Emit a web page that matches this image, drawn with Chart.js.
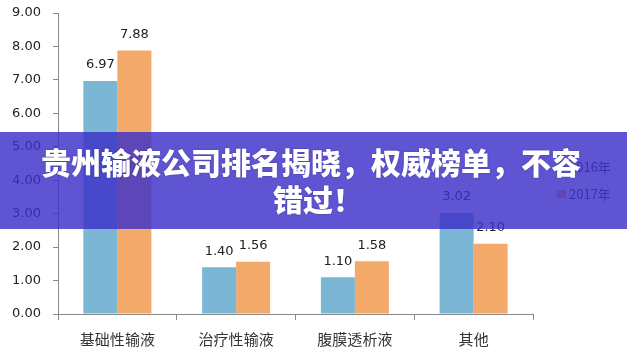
<!DOCTYPE html>
<html>
<head>
<meta charset="utf-8">
<script src="https://cdn.jsdelivr.net/npm/chart.js@4/dist/chart.umd.min.js"></script>
<style>
html,body{margin:0;padding:0;background:#fff;}
canvas{display:block;}
</style>
</head>
<body>
<canvas id="c" width="627" height="362"></canvas>
<script>
const categories = ['基础性输液', '治疗性输液', '腹膜透析液', '其他'];
const seriesNames = ['2016年', '2017年'];
const values2016 = [6.97, 1.40, 1.10, 3.02];
const values2017 = [7.88, 1.56, 1.58, 2.10];
const yTicks = [0, 1, 2, 3, 4, 5, 6, 7, 8, 9];
const bannerLines = ['贵州输液公司排名揭晓，权威榜单，不容', '错过！'];

const colors = ['#7BB6D4', '#F2A96A'];

const overlayPlugin = {
  id: 'overlay',
  afterDraw(chart) {
    const ctx = chart.ctx;
    ctx.save();
    // data labels
    ctx.font = '13px "DejaVu Sans", sans-serif';
    ctx.fillStyle = '#222';
    ctx.textAlign = 'center';
    ctx.textBaseline = 'middle';
    chart.data.datasets.forEach((ds, di) => {
      const meta = chart.getDatasetMeta(di);
      meta.data.forEach((bar, i) => {
        ctx.fillText(ds.data[i].toFixed(2), bar.x, bar.y - 16);
      });
    });
    // legend
    const lx = 557, ly = [167, 194];
    ctx.font = '13px "Noto Sans CJK SC", sans-serif';
    ctx.textAlign = 'left';
    chart.data.datasets.forEach((ds, di) => {
      ctx.fillStyle = ds.backgroundColor;
      ctx.fillRect(lx, ly[di] - 4, 9, 8);
      ctx.fillStyle = '#333';
      ctx.fillText(ds.label, lx + 12, ly[di]);
    });
    // banner
    ctx.fillStyle = 'rgba(60,48,200,0.82)';
    ctx.fillRect(0, 132, chart.width, 97);
    ctx.fillStyle = '#fff';
    ctx.font = '900 30px "Noto Sans CJK SC", sans-serif';
    ctx.textAlign = 'center';
    ctx.shadowColor = 'rgba(0,0,40,0.35)';
    ctx.shadowBlur = 2;
    ctx.fillText(bannerLines[0], 311, 163);
    ctx.fillText(bannerLines[1], 318, 200);
    ctx.restore();
  }
};

new Chart(document.getElementById('c'), {
  type: 'bar',
  data: {
    labels: categories,
    datasets: [
      { label: seriesNames[0], data: values2016, backgroundColor: colors[0] },
      { label: seriesNames[1], data: values2017, backgroundColor: colors[1] }
    ]
  },
  options: {
    responsive: false,
    animation: false,
    devicePixelRatio: 1,
    layout: { padding: { top: 13, right: 94, bottom: 1, left: 0 } },
    categoryPercentage: 0.5726,
    barPercentage: 1,
    plugins: { legend: { display: false }, tooltip: { enabled: false } },
    scales: {
      x: {
        grid: { offset: true, drawOnChartArea: false, drawTicks: true, tickLength: 6, color: '#888' },
        border: { color: '#888' },
        ticks: { color: '#333', font: { family: '"Noto Sans CJK SC", sans-serif', size: 15 }, padding: 10 },
        afterFit(s) { s.height = 47; s.paddingLeft = 0; s.paddingRight = 0; }
      },
      y: {
        min: 0, max: 9,
        afterBuildTicks(s) { s.ticks = yTicks.map(v => ({ value: v })); },
        grid: { drawOnChartArea: false, drawTicks: true, tickLength: 5, color: '#888' },
        border: { color: '#888' },
        ticks: {
          color: '#222', padding: 12,
          font: { family: '"DejaVu Sans", sans-serif', size: 13 },
          callback: v => Number(v).toFixed(2)
        },
        afterFit(s) { s.width = 58; s.paddingTop = 0; s.paddingBottom = 0; }
      }
    }
  },
  plugins: [overlayPlugin]
});
</script>
</body>
</html>
